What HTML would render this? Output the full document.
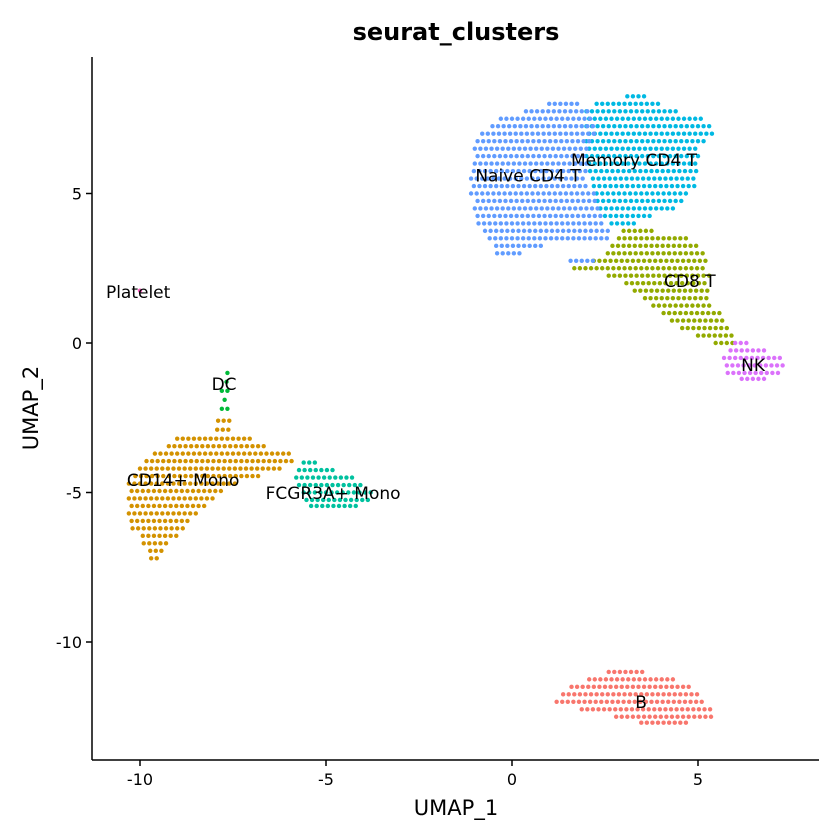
<!DOCTYPE html>
<html><head><meta charset="utf-8"><style>
html,body{margin:0;padding:0;background:#fff;}
svg{display:block;font-family:"DejaVu Sans","Liberation Sans",sans-serif;}
</style></head><body>
<svg id="chart" width="840" height="840"></svg>
<script>
// Cluster names, colors and shape spans: each row is [y, xStart, xEnd] in UMAP units
const clusterNames = ["B","CD14+ Mono","CD8 T","DC","FCGR3A+ Mono","Memory CD4 T","Naive CD4 T","NK","Platelet"];
const clusterColors = ["#F8766D","#D39200","#93AA00","#00BA38","#00C19F","#00B9E3","#619CFF","#DB72FB","#FF61C3"];
const spansB = [[-11.0,2.6,3.6],[-11.25,2.0,4.4],[-11.5,1.6,4.8],[-11.75,1.3,5.0],[-12.0,1.2,5.2],[-12.25,1.8,5.4],[-12.5,2.8,5.4],[-12.7,3.4,4.8]];
const spansCD14 = [[-2.6,-7.9,-7.6],[-2.9,-8.0,-7.5],[-3.2,-9.0,-7.0],[-3.45,-9.3,-6.6],[-3.7,-9.6,-6.0],[-3.95,-9.9,-5.8],[-4.2,-10.0,-6.2],[-4.45,-10.2,-6.8],[-4.7,-10.3,-7.4],[-4.95,-10.3,-7.8],[-5.2,-10.3,-8.0],[-5.45,-10.3,-8.2],[-5.7,-10.3,-8.4],[-5.95,-10.3,-8.6],[-6.2,-10.2,-8.8],[-6.45,-10.0,-9.0],[-6.7,-9.9,-9.2],[-6.95,-9.8,-9.4],[-7.2,-9.7,-9.5]];
const spansCD8 = [[3.75,3.0,3.8],[3.5,2.8,4.8],[3.25,2.7,5.0],[3.0,2.5,5.2],[2.75,2.2,5.2],[2.5,1.6,5.2],[2.25,2.6,5.3],[2.0,3.0,5.3],[1.75,3.3,5.3],[1.5,3.5,5.3],[1.25,3.8,5.4],[1.0,4.0,5.6],[0.75,4.3,5.7],[0.5,4.5,5.8],[0.25,5.0,6.0],[0.0,5.4,6.0]];
const spansDC = [[-1.0,-7.65,-7.55],[-1.3,-7.75,-7.6],[-1.6,-7.8,-7.6],[-1.9,-7.8,-7.6],[-2.2,-7.8,-7.65]];
const spansFCGR = [[-4.0,-5.6,-5.2],[-4.25,-5.8,-4.8],[-4.5,-5.8,-4.3],[-4.75,-5.8,-4.0],[-5.0,-5.6,-3.8],[-5.25,-5.6,-3.8],[-5.45,-5.4,-4.2]];
const spansMem = [[8.25,3.1,3.6],[8.0,2.2,4.0],[7.75,2.0,4.5],[7.5,2.0,5.2],[7.25,2.0,5.4],[7.0,2.0,5.4],[6.75,2.0,5.2],[6.5,2.0,5.0],[6.25,2.0,5.0],[6.0,2.0,5.0],[5.75,2.1,5.0],[5.5,2.1,5.0],[5.25,2.2,4.9],[5.0,2.2,4.8],[4.75,2.3,4.6],[4.5,2.3,4.4],[4.25,2.5,3.8],[4.0,2.6,3.4]];
const spansNaive = [[8.0,1.0,1.8],[7.75,0.3,2.1],[7.5,-0.3,2.2],[7.25,-0.6,2.2],[7.0,-0.8,2.2],[6.75,-1.0,2.1],[6.5,-1.0,2.0],[6.25,-1.0,2.0],[6.0,-1.0,2.0],[5.75,-1.1,2.0],[5.5,-1.1,2.0],[5.25,-1.1,2.1],[5.0,-1.1,2.2],[4.75,-1.0,2.3],[4.5,-1.0,2.3],[4.25,-1.0,2.4],[4.0,-0.9,2.4],[3.75,-0.8,2.6],[3.5,-0.6,2.6],[3.25,-0.5,0.8],[3.0,-0.4,0.3],[2.75,1.5,2.3]];
const spansNK = [[0.0,6.0,6.4],[-0.25,5.8,6.8],[-0.5,5.7,7.2],[-0.75,5.7,7.4],[-1.0,5.8,7.2],[-1.2,6.1,6.8]];
const spansPlatelet = [[1.75,-10.0,-9.9]];
const clusterSpans = [spansB,spansCD14,spansCD8,spansDC,spansFCGR,spansMem,spansNaive,spansNK,spansPlatelet];
const labelX = [3.47,-8.84,4.78,-7.74,-4.81,3.28,0.43,6.48,-10.05];
const labelY = [-12.0,-4.58,2.07,-1.37,-5.02,6.12,5.6,-0.74,1.71];
const xTicks = [-10,-5,0,5];
const yTicks = [-10,-5,0,5];

const NS="http://www.w3.org/2000/svg";
const svg=document.getElementById('chart');
const xS=v=>512+v*37.2;
const yS=v=>343-v*29.9;
function mk(t,a,p){const e=document.createElementNS(NS,t);for(const k in a)e.setAttribute(k,a[k]);(p||svg).appendChild(e);return e;}

const title=mk('text',{x:456,y:40,'text-anchor':'middle','font-size':24,'font-weight':'bold'});
title.textContent='seurat_clusters';



const pts=mk('g',{});


clusterSpans.forEach((spans,ci)=>{
  const g=mk('g',{fill:clusterColors[ci]},pts);
  
  
  spans.forEach((s,ri)=>{
    const off=(ri%2)*0.075;
    let n=0;
    for(let x=s[1]+off;x<=s[2]+1e-6;x+=0.15){
      const c=mk('circle',{cx:xS(x),cy:yS(s[0]),r:2.2},g);
      
      
      n++;
    }
    if(n===0){const c=mk('circle',{cx:xS(s[1]),cy:yS(s[0]),r:2.2},g);
      
      }
  });
});

clusterNames.forEach((n,i)=>{
  const t=mk('text',{x:xS(labelX[i]),y:yS(labelY[i])+6,'text-anchor':'middle','font-size':17});
  t.textContent=n;
  
  
});

const ax=mk('g',{stroke:'#000','stroke-width':1.5});


mk('line',{x1:92,y1:57,x2:92,y2:760},ax);
mk('line',{x1:92,y1:760,x2:819,y2:760},ax);
xTicks.forEach(v=>{
  mk('line',{x1:xS(v),y1:760,x2:xS(v),y2:766},ax);
  const t=mk('text',{x:xS(v),y:785,'text-anchor':'middle','font-size':16,fill:'#000'});
  t.textContent=v;
  
  
});
yTicks.forEach(v=>{
  mk('line',{x1:86,y1:yS(v),x2:92,y2:yS(v)},ax);
  const t=mk('text',{x:82,y:yS(v)+6,'text-anchor':'end','font-size':16,fill:'#000'});
  t.textContent=v;
  
  
});
const xt=mk('text',{x:456,y:815,'text-anchor':'middle','font-size':21});
xt.textContent='UMAP_1';


const yt=mk('text',{x:38,y:408,'text-anchor':'middle','font-size':21,transform:'rotate(-90 38 408)'});
yt.textContent='UMAP_2';


</script>
</body></html>
